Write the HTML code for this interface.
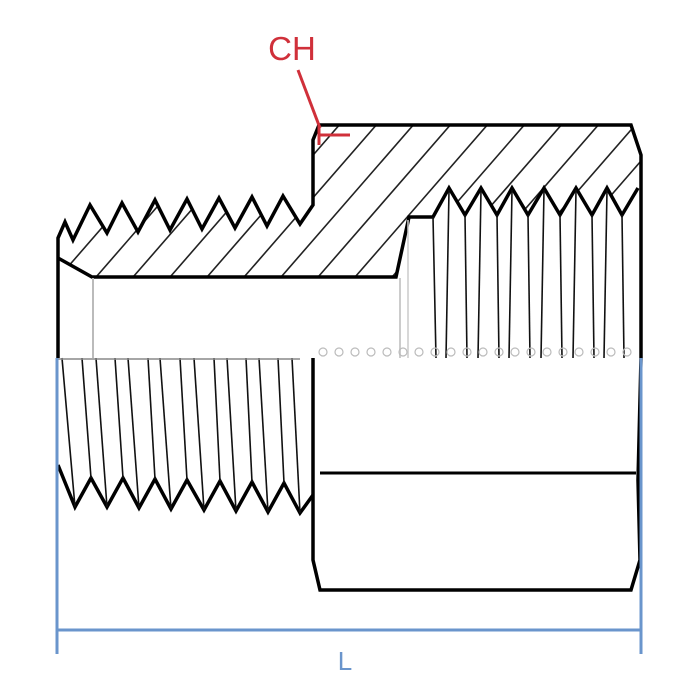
<!DOCTYPE html>
<html><head><meta charset="utf-8"><style>html,body{margin:0;padding:0;background:#fff}svg{display:block}</style></head>
<body>
<svg width="700" height="700" viewBox="0 0 700 700" xmlns="http://www.w3.org/2000/svg">
<defs>
<clipPath id="hc">
<polygon points="58,238 65,222 73,240 90,205 107,233 122,203 138,232 155,200 170,230 187,199 202,229 219,198 235,228 252,197 267,226 283,196 300,224 313,205 313,140 319,125 631,125 641,155 641,188 638,188 622,215 607,188 592,215 576,188 560,215 544,188 528,215 512,188 497,215 481,188 465,215 449,188 433,217 409,217 396,277 92,277 58,258"/>
</clipPath>
</defs>
<!-- hatching -->
<g clip-path="url(#hc)" stroke="#222" stroke-width="1.6">
<line x1="50" y1="330" x2="330" y2="8"/>
<line x1="87" y1="330" x2="367" y2="8"/>
<line x1="124" y1="330" x2="404" y2="8"/>
<line x1="161" y1="330" x2="441" y2="8"/>
<line x1="198" y1="330" x2="478" y2="8"/>
<line x1="235" y1="330" x2="515" y2="8"/>
<line x1="272" y1="330" x2="552" y2="8"/>
<line x1="309" y1="330" x2="589" y2="8"/>
<line x1="346" y1="330" x2="626" y2="8"/>
<line x1="383" y1="330" x2="663" y2="8"/>
<line x1="420" y1="330" x2="700" y2="8"/>
<line x1="457" y1="330" x2="737" y2="8"/>
<line x1="494" y1="330" x2="774" y2="8"/>
<line x1="531" y1="330" x2="811" y2="8"/>
<line x1="568" y1="330" x2="848" y2="8"/>
<line x1="13" y1="330" x2="293" y2="8"/>
</g>
<g fill="none" stroke="#000" stroke-width="3.5" stroke-linejoin="miter">
<!-- upper outline -->
<polyline points="58,358 58,238 65,222 73,240 90,205 107,233 122,203 138,232 155,200 170,230 187,199 202,229 219,198 235,228 252,197 267,226 283,196 300,224 313,205 313,140 319,125 631,125 641,155 641,358"/>
<polyline points="58,258 92,277 396,277 409,217 433,217 449,188 465,215 481,188 497,215 512,188 528,215 544,188 560,215 576,188 592,215 607,188 622,215 638,188"/>
<!-- lower male thread -->
<polyline points="58,465 75,507 91,478 107,507 123,478 139,508 155,479 171,509 187,480 204,510 220,481 236,511 252,482 268,512 284,483 300,513 313,495"/>
<!-- hex lower -->
<polyline points="313,358 313,560 320,590 631,590 640,560 638,480 641,358"/>
<line x1="320" y1="473" x2="636" y2="473" stroke-width="3"/>
</g>
<!-- thread lines upper right -->
<g stroke="#111" stroke-width="1.6">
<line x1="449" y1="190" x2="446" y2="358"/><line x1="465" y1="215" x2="467" y2="358"/>
<line x1="481" y1="190" x2="478" y2="358"/><line x1="497" y1="215" x2="499" y2="358"/>
<line x1="512" y1="190" x2="509" y2="358"/><line x1="528" y1="215" x2="530" y2="358"/>
<line x1="544" y1="190" x2="541" y2="358"/><line x1="560" y1="215" x2="562" y2="358"/>
<line x1="576" y1="190" x2="573" y2="358"/><line x1="592" y1="215" x2="594" y2="358"/>
<line x1="607" y1="190" x2="604" y2="358"/><line x1="622" y1="215" x2="624" y2="358"/>
<line x1="433" y1="217" x2="436" y2="358"/>
</g>
<!-- thread lines lower left -->
<g stroke="#111" stroke-width="1.6">
<line x1="62" y1="358" x2="75" y2="507"/><line x1="82" y1="358" x2="91" y2="478"/>
<line x1="96" y1="358" x2="107" y2="507"/><line x1="115" y1="358" x2="123" y2="478"/>
<line x1="128" y1="358" x2="139" y2="508"/><line x1="148" y1="358" x2="155" y2="479"/>
<line x1="160" y1="358" x2="171" y2="509"/><line x1="180" y1="358" x2="187" y2="480"/>
<line x1="194" y1="358" x2="204" y2="510"/><line x1="214" y1="358" x2="220" y2="481"/>
<line x1="227" y1="358" x2="236" y2="511"/><line x1="246" y1="358" x2="252" y2="482"/>
<line x1="259" y1="358" x2="268" y2="512"/><line x1="278" y1="358" x2="284" y2="483"/>
<line x1="292" y1="358" x2="300" y2="513"/>
</g>
<line x1="58" y1="359" x2="300" y2="359" stroke="#888" stroke-width="1.5"/>
<!-- faint lines -->
<line x1="93" y1="278" x2="93" y2="358" stroke="#bbb" stroke-width="2"/>
<line x1="400" y1="278" x2="400" y2="358" stroke="#ccc" stroke-width="2"/>
<line x1="408" y1="220" x2="408" y2="358" stroke="#ccc" stroke-width="1.5"/>
<g fill="none" stroke="#bbb" stroke-width="1.2">
<circle cx="323" cy="352" r="4"/><circle cx="339" cy="352" r="4"/><circle cx="355" cy="352" r="4"/><circle cx="371" cy="352" r="4"/><circle cx="387" cy="352" r="4"/><circle cx="403" cy="352" r="4"/><circle cx="419" cy="352" r="4"/><circle cx="435" cy="352" r="4"/><circle cx="451" cy="352" r="4"/><circle cx="467" cy="352" r="4"/><circle cx="483" cy="352" r="4"/><circle cx="499" cy="352" r="4"/><circle cx="515" cy="352" r="4"/><circle cx="531" cy="352" r="4"/><circle cx="547" cy="352" r="4"/><circle cx="563" cy="352" r="4"/><circle cx="579" cy="352" r="4"/><circle cx="595" cy="352" r="4"/><circle cx="611" cy="352" r="4"/><circle cx="627" cy="352" r="4"/>
</g>
<!-- dimension -->
<g stroke="#6a95cc" stroke-width="3">
<line x1="57" y1="358" x2="57" y2="654"/>
<line x1="641" y1="358" x2="641" y2="654"/>
<line x1="57" y1="630" x2="641" y2="630"/>
</g>
<text x="345" y="670" font-family="Liberation Sans, sans-serif" font-size="26" fill="#6a95cc" text-anchor="middle">L</text>
<!-- CH -->
<text x="292" y="60" font-family="Liberation Sans, sans-serif" font-size="33" fill="#d0303a" text-anchor="middle">CH</text>
<g stroke="#d0303a" stroke-width="3" fill="none">
<polyline points="298,70 320,128"/>
<line x1="318" y1="135" x2="350" y2="135"/>
<line x1="319" y1="126" x2="319" y2="145"/>
</g>
</svg>
</body></html>
